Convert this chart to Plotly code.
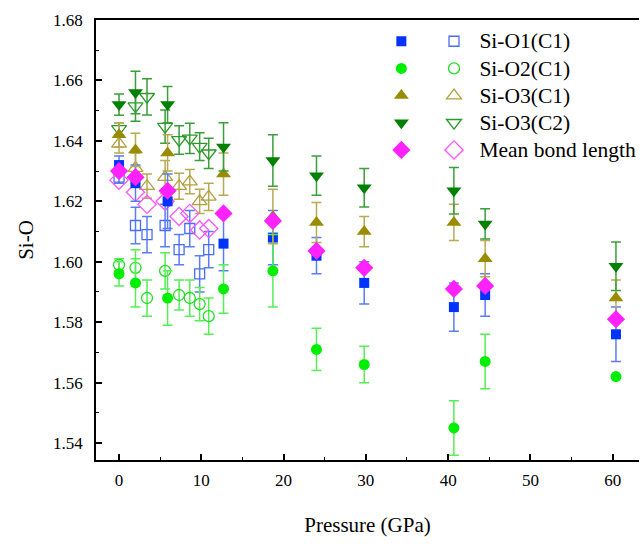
import plotly.graph_objects as go

# Pressures (GPa)
P_filled = [0, 2.0, 5.9, 12.7, 18.7, 24.0, 29.8, 40.7, 44.5, 60.4]
P_open = [0, 2.0, 3.4, 5.6, 7.3, 8.6, 9.8, 10.9]

# Si-O1(C1)
sio1_f = [1.632, 1.626, 1.620, 1.606, 1.608, 1.602, 1.593, 1.585, 1.589, 1.576]
sio1_f_err = [0.003, 0.006, 0.009, 0.009, 0.009, 0.006, 0.007, 0.008, 0.007, 0.009]
sio1_o = [1.628, 1.612, 1.609, 1.612, 1.604, 1.611, 1.596, 1.604]
sio1_o_err = [0.002, 0.006, 0.006, 0.007, 0.005, 0.006, 0.006, 0.006]

# Si-O2(C1)
sio2_f = [1.596, 1.593, 1.588, 1.591, 1.597, 1.571, 1.566, 1.545, 1.567, 1.562]
sio2_f_err = [0.004, 0.008, 0.009, 0.008, 0.012, 0.007, 0.006, 0.009, 0.009, 0.0]
sio2_o = [1.599, 1.598, 1.588, 1.597, 1.589, 1.588, 1.586, 1.582]
sio2_o_err = [0.002, 0.006, 0.006, 0.006, 0.005, 0.006, 0.0055, 0.006]

# Si-O3(C1)
sio3c1_f = [1.642, 1.637, 1.636, 1.629, 1.615, 1.613, 1.610, 1.613, 1.601, 1.588]
sio3c1_f_err = [0.004, 0.0055, 0.006, 0.007, 0.009, 0.0066, 0.005, 0.006, 0.006, 0.006]
sio3c1_o = [1.639, 1.631, 1.625, 1.628, 1.625, 1.6265, 1.620, 1.6215]
sio3c1_o_err = [0.003, 0.005, 0.004, 0.0055, 0.0043, 0.004, 0.004, 0.0045]

# Si-O3(C2)
sio3c2_f = [1.652, 1.656, 1.652, 1.638, 1.6335, 1.6285, 1.6245, 1.6235, 1.6125, 1.5985]
sio3c2_f_err = [0.0035, 0.007, 0.006, 0.008, 0.0085, 0.0065, 0.0064, 0.0077, 0.005, 0.008]
sio3c2_o = [1.644, 1.6515, 1.6546, 1.6447, 1.6403, 1.6408, 1.6381, 1.6359]
sio3c2_o_err = [0.002, 0.005, 0.006, 0.0055, 0.0047, 0.005, 0.0046, 0.005]

# Mean bond length
mean_f = [1.630, 1.628, 1.6235, 1.616, 1.6135, 1.6036, 1.598, 1.591, 1.592, 1.581]
mean_o = [1.627, 1.623, 1.619, 1.620, 1.615, 1.616, 1.6105, 1.611]

names = ["Si-O1(C1)", "Si-O2(C1)", "Si-O3(C1)", "Si-O3(C2)", "Mean bond length"]

FONT = "Liberation Serif"

series = [
    (names[0], sio1_f, sio1_f_err, sio1_o, sio1_o_err, "square", "#0033ff", "#4a6cf0", "#5a7cf5", "#5a7cf5", 10),
    (names[1], sio2_f, sio2_f_err, sio2_o, sio2_o_err, "circle", "#00ee00", "#22dd22", "#55ee55", "#55ee55", 11),
    (names[2], sio3c1_f, sio3c1_f_err, sio3c1_o, sio3c1_o_err, "triangle-up", "#998c00", "#b0a040", "#b8aa50", "#b8aa50", 13),
    (names[3], sio3c2_f, sio3c2_f_err, sio3c2_o, sio3c2_o_err, "triangle-down", "#008000", "#2a9a2a", "#3a9e3a", "#3a9e3a", 13),
    (names[4], mean_f, None, mean_o, None, "diamond", "#ff22ff", "#ff55ff", None, None, 14),
]

fig = go.Figure()

for name, yf, ef, yo, eo, sym, cf, co, ecf, eco, sz in series:
    tr = dict(
        x=P_open, y=yo, mode="markers",
        name='<span style="font-size:21.5px">\u00a0' + name + '</span>', legend="legend2",
        marker=dict(symbol=sym + "-open", size=sz, color=co, line=dict(width=1.3, color=co)),
    )
    if eo is not None:
        tr["error_y"] = dict(type="data", array=eo, visible=True, color=eco, thickness=1.5, width=5)
    fig.add_trace(go.Scatter(**tr))

for name, yf, ef, yo, eo, sym, cf, co, ecf, eco, sz in series:
    tr = dict(
        x=P_filled, y=yf, mode="markers", name=" ", legend="legend",
        marker=dict(symbol=sym, size=sz, color=cf, line=dict(width=0)),
    )
    if ef is not None:
        tr["error_y"] = dict(type="data", array=ef, visible=True, color=ecf, thickness=1.5, width=5)
    fig.add_trace(go.Scatter(**tr))

fig.update_layout(
    width=642, height=544,
    margin=dict(l=96, r=0, t=20, b=84),
    paper_bgcolor="white", plot_bgcolor="white",
    font=dict(family=FONT, size=17, color="black"),
    legend=dict(x=0.5255, y=0.994, xanchor="left", yanchor="top", bgcolor="rgba(0,0,0,0)",
                font=dict(family=FONT, size=18.6), tracegroupgap=0, itemwidth=30),
    legend2=dict(x=0.623, y=0.994, xanchor="left", yanchor="top", bgcolor="rgba(0,0,0,0)",
                 font=dict(family=FONT, size=18.6), tracegroupgap=0, itemwidth=30),
)

fig.update_xaxes(
    range=[-2.8, 63.2], showgrid=False, zeroline=False,
    showline=True, linecolor="black", linewidth=1.5, mirror=True,
    ticks="inside", ticklen=6, tickwidth=1.5, tickcolor="black",
    tick0=0, dtick=10,
    minor=dict(ticks="inside", ticklen=3, tickwidth=1.2, dtick=5, tickcolor="black"),
    tickfont=dict(family=FONT, size=17), ticklabelstandoff=4,
    title=dict(text="Pressure (GPa)", font=dict(family=FONT, size=21), standoff=28),
)
fig.update_yaxes(
    range=[1.5344, 1.68], showgrid=False, zeroline=False,
    showline=True, linecolor="black", linewidth=1.5, mirror=False,
    ticks="inside", ticklen=6, tickwidth=1.5, tickcolor="black",
    tick0=1.54, dtick=0.02, tickformat=".2f",
    minor=dict(ticks="inside", ticklen=3, tickwidth=1.2, dtick=0.01, tickcolor="black"),
    tickfont=dict(family=FONT, size=17), ticklabelstandoff=8,
    title=dict(text="Si-O", font=dict(family=FONT, size=21), standoff=14),
)

fig.write_html("out.html")
